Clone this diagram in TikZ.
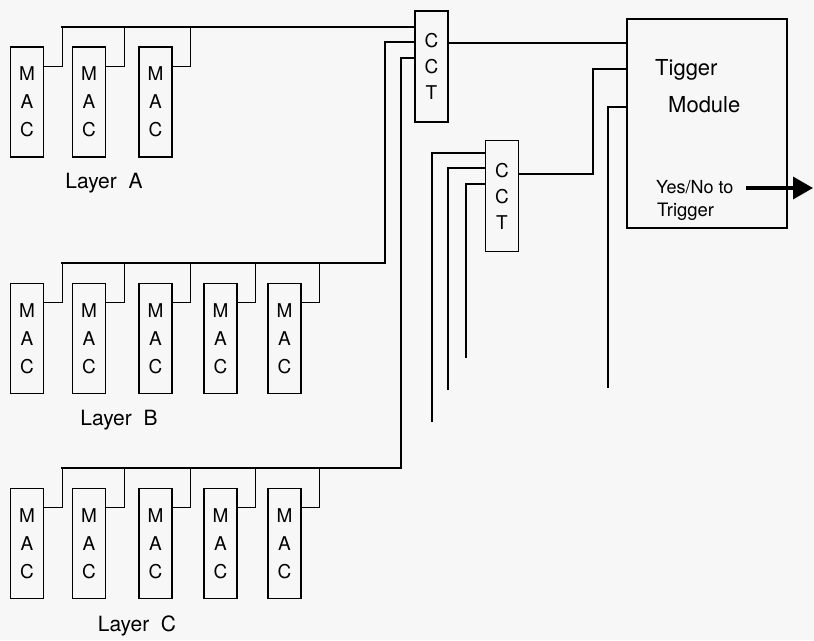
\documentclass[tikz,border=0pt]{standalone}
\usepackage{fontspec}
\setmainfont{TeX Gyre Heros}
\usepackage{xcolor}
\usepackage{tikz}
\usetikzlibrary{arrows.meta, positioning, calc}

\definecolor{paper}{RGB}{247,247,247}

\tikzset{
  wire/.style={line width=1.4pt},
  mac/.style={draw, line width=1.5pt, minimum width=33pt, minimum height=110pt,
    inner sep=0pt, align=center, font=\fontsize{19}{28}\selectfont},
  cct/.style={mac, minimum height=111pt, font=\fontsize{19}{26}\selectfont},
  lbl/.style={inner sep=0pt, anchor=base west},
}

\begin{document}
\begin{tikzpicture}[x=1pt, y=-1pt]
    \fill[paper] (0,0) rectangle (814,640);
    \useasboundingbox (0,0) rectangle (814,640);

    % MAC boards of the three layers
    \foreach \i/\x in {1/27,2/89,3/155.5}
        \node[mac] (a\i) at (\x,102) {M\\A\\C};
    \foreach \i/\x in {1/27,2/89,3/155.5,4/220.5,5/284.5} {
        \node[mac] (b\i) at (\x,338.5) {M\\A\\C};
        \node[mac] (c\i) at (\x,543.5) {M\\A\\C};
    }

    \node[font=\fontsize{21}{24}\selectfont] (layA) at (104,183) {Layer\ \ A};
    \node[font=\fontsize{21}{24}\selectfont] (layB) at (119,420) {Layer\ \ B};
    \node[font=\fontsize{21}{24}\selectfont] (layC) at (137,626) {Layer\ \ C};

    % coincidence boards and trigger module
    \node[cct] (cct1) at (431.5,66.5) {C\\C\\T};
    \node[cct] (cct2) at (502,196) {C\\C\\T};
    \node[draw, line width=1.5pt, minimum width=160pt, minimum height=209pt,
          inner sep=0pt] (trig) at (707,123.5) {};

    \node[lbl, font=\fontsize{22}{24}\selectfont] (tig) at (655,75) {Tigger};
    \node[lbl, font=\fontsize{22}{24}\selectfont] (mod) at (668,112) {Module};
    \node[lbl, font=\fontsize{18}{20}\selectfont] (yes) at (656,193) {Yes/No to};
    \node[lbl, font=\fontsize{18.5}{20}\selectfont] (trg) at (657,216) {Trigger};

    % layer buses
    \coordinate (busA) at (61,27);
    \coordinate (busB) at (61,263);
    \coordinate (busC) at (61,468);
    \coordinate (upB) at (385,42);
    \coordinate (upC) at (401,58);

    \foreach \i in {1,2,3}
        \draw[wire] ([yshift=-20pt]a\i.north east) -- ++(18,0) |- (busA);
    \foreach \i in {1,...,5} {
        \draw[wire] ([yshift=-20pt]b\i.north east) -- ++(18,0) |- (busB);
        \draw[wire] ([yshift=-20pt]c\i.north east) -- ++(18,0) |- (busC);
    }

    \draw[wire] (busA) -- (busA -| cct1.west);
    \draw[wire] (busB) -| (upB) -- (upB -| cct1.west);
    \draw[wire] (busC) -| (upC) -- (upC -| cct1.west);

    % open inputs of the second CCT
    \coordinate (f1) at (432,422);
    \coordinate (f2) at (448,390);
    \coordinate (f3) at (466,358);
    \draw[wire] (f1) |- ([yshift=43pt]cct2.west);
    \draw[wire] (f2) |- ([yshift=28pt]cct2.west);
    \draw[wire] (f3) |- ([yshift=12pt]cct2.west);

    % into the trigger module
    \coordinate (o1) at ([yshift=23.5pt]cct1.east);
    \draw[wire] (o1) -- (o1 -| trig.west);
    \coordinate (o2) at ([yshift=22pt]cct2.east);
    \coordinate (k2) at (593,69);
    \draw[wire] (o2) -| (k2) -- (k2 -| trig.west);
    \coordinate (f4) at (608,388);
    \draw[wire] (f4) |- ([yshift=16.5pt]trig.west);

    % output
    \coordinate (arS) at (746,188);
    \coordinate (arE) at (813,188);
    \draw[line width=3.5pt, -{Triangle[length=20pt,width=22pt]}] (arS) -- (arE);
\end{tikzpicture}
\end{document}
